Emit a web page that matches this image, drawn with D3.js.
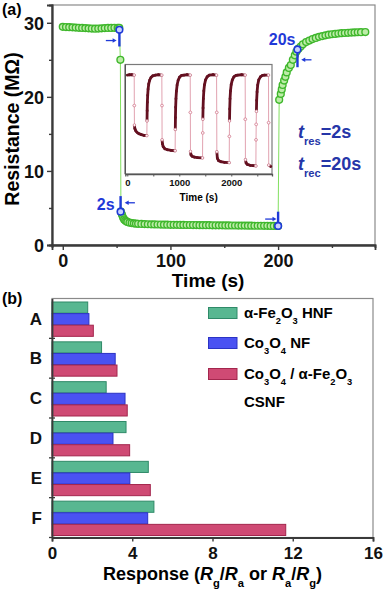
<!DOCTYPE html>
<html>
<head>
<meta charset="utf-8">
<script src="https://cdn.jsdelivr.net/npm/d3@7"></script>
<style>
body { margin: 0; background: #fff; }
text { font-family: "Liberation Sans", Arial, sans-serif; font-weight: bold; }
</style>
</head>
<body>
<svg id="chart" width="384" height="593" viewBox="0 0 384 593"></svg>
<script>
// ---------- (a) main response / recovery curve ----------
const timeA = [0, 3, 6, 9, 12, 15, 18, 21, 24, 27, 30, 33, 36, 39, 42, 45, 48, 51, 52.5,
    53.5, 54,
    55, 56, 57, 58, 59, 60, 62, 64, 66, 68,
    70, 73, 76, 79, 82, 85, 88, 91, 94, 97, 100, 103, 106, 109, 112, 115, 118, 121, 124, 127,
    130, 133, 136, 139, 142, 145, 148, 151, 154, 157, 160, 163, 166, 169, 172, 175, 178, 181,
    184, 187, 190, 193, 196, 199, 200,
    201, 202.5, 203.4, 204.2, 205.6, 206.8, 208, 210, 211.8, 213.7, 215.5, 217, 219, 221, 223,
    226, 229, 232, 235, 238, 241, 244, 247, 250, 253, 256, 259, 262, 265, 268, 271, 274, 277, 281];
const resA = [29.45, 29.42, 29.4, 29.38, 29.35, 29.32, 29.3, 29.28, 29.25, 29.22, 29.2, 29.22, 29.25, 29.28, 29.3, 29.3, 29.32, 29.3, 29.3,
    25.0, 4.5,
    4.1, 3.7, 3.45, 3.3, 3.2, 3.12, 3.02, 2.96, 2.92, 2.88,
    2.86, 2.84, 2.82, 2.8, 2.79, 2.78, 2.77, 2.76, 2.75, 2.74, 2.73, 2.73, 2.72, 2.71, 2.71, 2.7, 2.7, 2.69, 2.69, 2.68,
    2.68, 2.67, 2.67, 2.66, 2.66, 2.65, 2.65, 2.64, 2.64, 2.63, 2.63, 2.62, 2.62, 2.62, 2.61, 2.61, 2.6, 2.6,
    2.6, 2.59, 2.59, 2.58, 2.58, 2.57, 2.57,
    19.6, 20.4, 21.0, 21.6, 22.2, 22.7, 23.3, 23.9, 24.3, 25.0, 25.6, 26.1, 26.5, 26.8, 27.1,
    27.4, 27.6, 27.8, 27.95, 28.1, 28.2, 28.3, 28.4, 28.45, 28.5, 28.55, 28.6, 28.62, 28.65, 28.68, 28.7, 28.72, 28.73, 28.75];

// blue response/recovery markers
const markT = [52.6, 53.7, 200, 218];
const markR = [29.05, 4.5, 2.57, 26.4];
const markBarEnd = [26.8, 6.6, 4.5, 24.0];
// arrows: from, to (time), at resistance
const arrowFrom = [40, 67, 188, 231];
const arrowTo = [50, 57.5, 198.5, 221.5];
const arrowR = [27.6, 5.7, 3.5, 25.0];

const xTicksA = [0, 100, 200];
const xMinorA = [50, 150, 250];
const yTicksA = [0, 10, 20, 30];
const yMinorA = [5, 15, 25];

// ---------- (a) inset: repeated cycles ----------
const insetT = [0, 40, 90, 133, 135, 137, 145, 160, 185, 220, 270, 320, 376,
    379, 382, 386, 392, 400, 412, 430, 455, 490, 540, 600, 664,
    667, 669, 676, 690, 720, 770, 840, 920,
    923, 926, 930, 936, 945, 958, 978, 1005, 1045, 1090, 1150, 1210,
    1213, 1215, 1225, 1245, 1290, 1350, 1447,
    1450, 1453, 1457, 1463, 1472, 1485, 1505, 1535, 1575, 1650, 1717,
    1720, 1722, 1732, 1755, 1800, 1870, 1960,
    1963, 1966, 1970, 1976, 1985, 1998, 2020, 2050, 2090, 2125, 2200, 2267,
    2270, 2272, 2285, 2310, 2360, 2420, 2473,
    2476, 2479, 2483, 2488, 2496, 2508, 2528, 2560, 2600, 2640, 2716,
    2718, 2720, 2760];
const insetR = [28.9, 29.0, 29.0, 28.9, 20, 14.3, 13.3, 12.7, 12.2, 11.8, 11.5, 11.3, 11.2,
    15.5, 18.5, 21, 23, 24.8, 26.3, 27.4, 28.2, 28.7, 28.9, 29.0, 28.9,
    20, 10, 8.8, 8.0, 7.4, 7.1, 6.9, 6.8,
    13, 16.5, 19.5, 22, 24.2, 26, 27.4, 28.3, 28.8, 28.9, 29.0, 28.9,
    18, 6.6, 5.6, 5.2, 4.95, 4.8, 4.7,
    12, 16, 19.3, 22, 24.3, 26.1, 27.5, 28.4, 28.9, 29.0, 28.9,
    18, 6.5, 4.6, 3.9, 3.6, 3.4, 3.3,
    11, 15.5, 19, 22, 24.3, 26.1, 27.5, 28.4, 28.8, 28.9, 29.0, 28.9,
    16, 4.2, 3.2, 2.8, 2.55, 2.45, 2.35,
    10, 14.5, 18.3, 21.5, 24, 26, 27.5, 28.4, 28.8, 28.9, 28.9,
    15, 2.6, 2.2];
const insetTicks = [0, 500, 1000, 1500, 2000, 2500];

// ---------- (b) response bars ----------
const samples = ["A", "B", "C", "D", "E", "F"];
const fe2o3Resp = [1.78, 2.47, 2.70, 3.69, 4.80, 5.08];
const co3o4Resp = [1.84, 3.15, 3.64, 3.04, 3.88, 4.77];
const csnfResp = [2.06, 3.24, 3.75, 3.87, 4.90, 11.65];
const xTicksB = [0, 4, 8, 12, 16];
const seriesKeys = ["fe", "co", "cs"];
const seriesColors = {fe: ["#58b791", "#2f8a68"], co: ["#4a52f2", "#2b33c4"], cs: ["#cf4a74", "#a3264d"]};

const svg = d3.select("#chart");
const blue = "#1f3ad8";
const navy = "#2536a8";

// write text made of parts: "_x" subscript, "*x" italic
function richText(sel, parts, size) {
    let shift = 0;
    parts.forEach(p => {
        let sub = p[0] === "_", ital = p[0] === "*";
        let txt = (sub || ital) ? p.slice(1) : p;
        let want = sub ? size * 0.38 : 0;
        let ts = sel.append("tspan").text(txt).attr("dy", want - shift);
        if (sub) ts.attr("font-size", size * 0.62);
        if (ital) ts.attr("font-style", "italic");
        shift = want;
    });
}

// ======================= panel (a) =======================
const A = {left: 52, right: 375, top: 5, bottom: 245};
const xA = d3.scaleLinear().domain([-10, 290]).range([A.left, A.right]);
const yA = d3.scaleLinear().domain([0, 32.4]).range([A.bottom, A.top]);

svg.append("rect")
    .attr("x", A.left).attr("y", A.top)
    .attr("width", A.right - A.left).attr("height", A.bottom - A.top)
    .attr("fill", "none").attr("stroke", "#8a8a8a").attr("stroke-width", 1.2);

const gxA = svg.append("g").attr("transform", "translate(0," + A.bottom + ")");
gxA.call(d3.axisBottom(xA).tickValues(xTicksA).tickSize(5).tickPadding(4));
gxA.append("g").call(d3.axisBottom(xA).tickValues(xMinorA).tickSize(3).tickFormat(""));
const gyA = svg.append("g").attr("transform", "translate(" + A.left + ",0)");
gyA.call(d3.axisLeft(yA).tickValues(yTicksA).tickSize(5).tickPadding(3));
gyA.append("g").call(d3.axisLeft(yA).tickValues(yMinorA).tickSize(3).tickFormat(""));
[gxA, gyA].forEach(g => {
    g.selectAll(".domain").attr("stroke", "#3a3a3a").attr("stroke-width", 1.8);
    g.selectAll(".tick line").attr("stroke", "#3a3a3a").attr("stroke-width", 1.4);
    g.selectAll(".tick text").attr("fill", "#111").style("font-size", "18px").attr("font-family", null);
});
gyA.selectAll(".tick text").attr("dy", "0.36em");

svg.append("text").attr("x", 2).attr("y", 15).style("font-size", "16px").text("(a)");
svg.append("text").attr("x", xA(135)).attr("y", 287).attr("text-anchor", "middle")
    .style("font-size", "19px").text("Time (s)");
svg.append("text").attr("transform", "translate(19," + ((A.top + A.bottom) / 2 + 4) + ") rotate(-90)")
    .attr("text-anchor", "middle").style("font-size", "19.5px").text("Resistance (MΩ)");

// inset
const I = {left: 125.3, right: 272, top: 64.5, bottom: 174};
const xI = d3.scaleLinear().domain([-38.5, 2783]).range([I.left, I.right]);
const yI = d3.scaleLinear().domain([0, 32]).range([I.bottom, I.top]);
svg.append("rect").attr("x", I.left).attr("y", I.top)
    .attr("width", I.right - I.left).attr("height", I.bottom - I.top)
    .attr("fill", "#fff").attr("stroke", "#7a7a7a").attr("stroke-width", 1.2);
const gxI = svg.append("g").attr("transform", "translate(0," + I.bottom + ")")
    .call(d3.axisBottom(xI).tickValues(insetTicks).tickSize(2.5).tickPadding(3)
        .tickFormat(d => d % 1000 === 0 ? d : ""));
gxI.selectAll(".domain").attr("stroke", "#555").attr("stroke-width", 1.3);
gxI.selectAll(".tick line").attr("stroke", "#555");
gxI.selectAll(".tick text").attr("fill", "#111").style("font-size", "9.5px").attr("font-family", null);
svg.append("line").attr("x1", I.left).attr("x2", I.left).attr("y1", I.top).attr("y2", I.bottom)
    .attr("stroke", "#555").attr("stroke-width", 1.4);
svg.append("text").attr("x", (I.left + I.right) / 2).attr("y", 201).attr("text-anchor", "middle")
    .style("font-size", "10px").text("Time (s)");

const insetPts = insetT.map((t, i) => [xI(t), yI(insetR[i])]);
svg.append("path").attr("d", d3.line()(insetPts))
    .attr("fill", "none").attr("stroke", "#e2a3b1").attr("stroke-width", 1);
const steep = [];
for (let i = 1; i < insetPts.length; i++) {
    const dx = insetPts[i][0] - insetPts[i - 1][0], dy = insetPts[i][1] - insetPts[i - 1][1];
    if (Math.hypot(dx, dy) > 12) { steep.push(insetPts[i - 1], insetPts[i]); continue; }
    svg.append("line")
        .attr("x1", insetPts[i - 1][0]).attr("y1", insetPts[i - 1][1])
        .attr("x2", insetPts[i][0]).attr("y2", insetPts[i][1])
        .attr("stroke", "#641020").attr("stroke-width", 2.8).attr("stroke-linecap", "round");
}
svg.append("g").selectAll("circle").data(steep).join("circle")
    .attr("cx", d => d[0]).attr("cy", d => d[1]).attr("r", 1.3)
    .attr("fill", "#fff").attr("stroke", "#d88a9c").attr("stroke-width", 0.8);

// main curve
const ptsA = timeA.map((t, i) => [xA(t), yA(resA[i])]);
svg.append("path").attr("d", d3.line()(ptsA))
    .attr("fill", "none").attr("stroke", "#82e060").attr("stroke-width", 1);
svg.append("g").selectAll("circle").data(ptsA).join("circle")
    .attr("cx", d => d[0]).attr("cy", d => d[1]).attr("r", 3.4)
    .attr("fill", "#bdeca8").attr("stroke", "#3fb72c").attr("stroke-width", 1.4);

// blue markers, bars and arrows
markT.forEach((t, i) => {
    svg.append("line").attr("x1", xA(t)).attr("x2", xA(t))
        .attr("y1", yA(markR[i])).attr("y2", yA(markBarEnd[i]))
        .attr("stroke", blue).attr("stroke-width", 2.4);
    svg.append("circle").attr("cx", xA(t)).attr("cy", yA(markR[i])).attr("r", 3.3)
        .attr("fill", "#c9d2ff").attr("stroke", blue).attr("stroke-width", 1.6);
});
arrowFrom.forEach((f, i) => {
    const x1 = xA(f), x2 = xA(arrowTo[i]), y = yA(arrowR[i]);
    const dir = Math.sign(x2 - x1);
    svg.append("line").attr("x1", x1).attr("x2", x2 - dir * 3).attr("y1", y).attr("y2", y)
        .attr("stroke", blue).attr("stroke-width", 1.3);
    svg.append("path")
        .attr("d", "M" + x2 + "," + y + "L" + (x2 - dir * 4) + "," + (y - 2.2) + "L" + (x2 - dir * 4) + "," + (y + 2.2) + "Z")
        .attr("fill", blue);
});
svg.append("text").attr("x", xA(markT[1]) - 6).attr("y", yA(markR[1]) - 2)
    .attr("text-anchor", "end").attr("fill", blue).style("font-size", "16px").text("2s");
svg.append("text").attr("x", xA(markT[3]) - 2).attr("y", yA(markR[3]) - 4)
    .attr("text-anchor", "end").attr("fill", blue).style("font-size", "16px").text("20s");

const tRes = svg.append("text").attr("x", 298).attr("y", 138).attr("fill", navy).style("font-size", "18px");
richText(tRes, ["*t", "_res", "=2s"], 18);
const tRec = svg.append("text").attr("x", 298).attr("y", 170).attr("fill", navy).style("font-size", "18px");
richText(tRec, ["*t", "_rec", "=20s"], 18);

// ======================= panel (b) =======================
const B = {left: 52, right: 373, top: 298.5, bottom: 537.5};
const xB = d3.scaleLinear().domain([0, 16]).range([B.left, B.right]);
const yB = d3.scaleBand().domain(samples).range([B.top, B.bottom]).padding(0);
const ySub = d3.scaleBand().domain(seriesKeys).range([3.5, yB.bandwidth() - 2]).paddingInner(0.04);

svg.append("rect")
    .attr("x", B.left).attr("y", B.top)
    .attr("width", B.right - B.left).attr("height", B.bottom - B.top)
    .attr("fill", "none").attr("stroke", "#8a8a8a").attr("stroke-width", 1.2);

const rows = samples.map((s, i) => ({s: s, fe: fe2o3Resp[i], co: co3o4Resp[i], cs: csnfResp[i]}));
const grp = svg.append("g").selectAll("g").data(rows).join("g")
    .attr("transform", d => "translate(0," + yB(d.s) + ")");
grp.selectAll("rect").data(d => seriesKeys.map(k => ({k: k, v: d[k]}))).join("rect")
    .attr("x", xB(0)).attr("y", d => ySub(d.k))
    .attr("width", d => xB(d.v) - xB(0)).attr("height", ySub.bandwidth())
    .attr("fill", d => seriesColors[d.k][0]).attr("stroke", d => seriesColors[d.k][1]).attr("stroke-width", 1);

const gxB = svg.append("g").attr("transform", "translate(0," + B.bottom + ")")
    .call(d3.axisBottom(xB).tickValues(xTicksB).tickSize(4).tickPadding(5));
const gyB = svg.append("g").attr("transform", "translate(" + B.left + ",0)")
    .call(d3.axisLeft(yB).tickSize(0).tickPadding(10));
[gxB, gyB].forEach(g => {
    g.selectAll(".domain").attr("stroke", "#3a3a3a").attr("stroke-width", 1.8);
    g.selectAll(".tick line").attr("stroke", "#3a3a3a").attr("stroke-width", 1.4);
    g.selectAll(".tick text").attr("fill", "#111").style("font-size", "17px").attr("font-family", null);
});
gyB.selectAll(".tick text").attr("dy", "0.36em");
// category separators
svg.append("g").selectAll("line").data(samples).join("line")
    .attr("x1", B.left - 3).attr("x2", B.left + 3)
    .attr("y1", d => yB(d) + yB.bandwidth()).attr("y2", d => yB(d) + yB.bandwidth())
    .attr("stroke", "#3a3a3a").attr("stroke-width", 1.3);

svg.append("text").attr("x", 2).attr("y", 304).style("font-size", "16px").text("(b)");
const xTitle = svg.append("text").attr("x", xB(8)).attr("y", 580).attr("text-anchor", "middle")
    .style("font-size", "18px");
richText(xTitle, ["Response (", "*R", "_g", "/", "*R", "_a", " or ", "*R", "_a", "/", "*R", "_g", ")"], 18);

// legend
const legendParts = [
    ["α-Fe", "_2", "O", "_3", " HNF"],
    ["Co", "_3", "O", "_4", " NF"],
    ["Co", "_3", "O", "_4", " / α-Fe", "_2", "O", "_3"]
];
const legY = [307.5, 337.5, 368.5];
seriesKeys.forEach((k, i) => {
    svg.append("rect").attr("x", 208.5).attr("y", legY[i]).attr("width", 28.5).attr("height", 11)
        .attr("fill", seriesColors[k][0]).attr("stroke", seriesColors[k][1]).attr("stroke-width", 1);
    const t = svg.append("text").attr("x", 244).attr("y", legY[i] + 10.5).style("font-size", "15px");
    richText(t, legendParts[i], 15);
});
svg.append("text").attr("x", 244).attr("y", 407).style("font-size", "15px").text("CSNF");
</script>
</body>
</html>
